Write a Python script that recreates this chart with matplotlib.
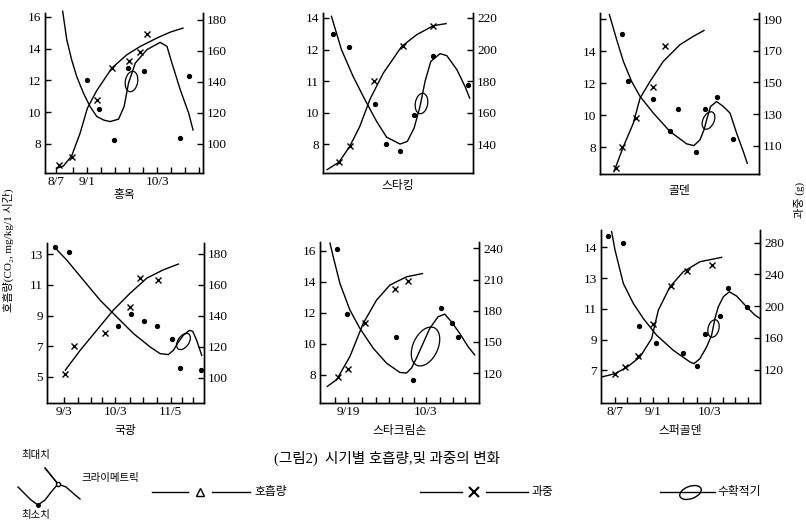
import numpy as np
import matplotlib
matplotlib.use('Agg')
import matplotlib.pyplot as plt
from matplotlib.path import Path
from matplotlib.transforms import Affine2D
from matplotlib.lines import Line2D

plt.rcParams['font.family'] = ['Liberation Serif', 'Noto Sans CJK KR']

# ---- 홍옥 ----
p1_curve_x = [1.26, 1.55, 1.9, 2.26, 2.74, 3.21, 3.69, 4.2, 4.64, 5.24, 5.64, 5.95, 6.43, 7.26, 8.21, 8.69, 9.05, 9.64, 10.24, 10.55]
p1_curve_y = [16.36, 14.57, 13.3, 12.25, 11.2, 10.36, 9.73, 9.5, 9.41, 9.56, 10.36, 11.83, 13.09, 13.94, 14.4, 14.15, 13.09, 11.41, 9.94, 8.88]
p1_dot_x = [3.02, 3.88, 4.95, 5.95, 7.02, 9.64, 10.24]
p1_dot_y = [12.0, 10.23, 8.25, 12.78, 12.61, 8.4, 12.25]
p1_wt_x = [0.83, 1.31, 1.9, 2.5, 3.02, 3.69, 4.76, 5.83, 6.79, 7.98, 8.93, 9.83]
p1_wt_y = [84.3, 85.8, 92.3, 106.9, 123.0, 134.4, 148.8, 157.4, 162.8, 168.2, 172.0, 174.6]
p1_xm_x = [1.02, 1.9, 3.74, 4.76, 6.02, 6.74, 7.26]
p1_xm_y = [86.5, 91.8, 128.0, 148.8, 153.5, 158.9, 170.8]
p1_harvest = (6.14, 11.94)

# ---- 스타킹 ----
p2_curve_x = [0.6, 1.31, 2.14, 2.98, 3.81, 4.52, 5.48, 6.0, 6.48, 6.9, 7.26, 7.67, 8.33, 8.81, 9.52, 10.12, 10.43]
p2_curve_y = [16.1, 14.0, 12.3, 10.83, 9.46, 8.46, 8.02, 8.19, 9.03, 10.4, 11.99, 13.25, 13.74, 13.61, 12.73, 11.63, 10.93]
p2_dot_x = [0.71, 1.86, 3.69, 4.48, 5.48, 6.48, 7.81, 10.29]
p2_dot_y = [15.0, 14.14, 10.55, 8.02, 7.56, 9.84, 13.57, 11.78]
p2_wt_x = [0.29, 1.14, 1.9, 2.62, 3.33, 4.29, 5.6, 6.67, 7.86, 8.76]
p2_wt_y = [124.0, 128.8, 138.7, 151.4, 168.3, 185.1, 202.0, 209.4, 215.1, 216.4]
p2_xm_x = [1.14, 1.95, 3.62, 5.67, 7.86]
p2_xm_y = [128.8, 139.2, 179.9, 202.4, 215.1]
p2_harvest = (6.98, 10.62)

# ---- 골덴 ----
p3_curve_x = [0.67, 1.19, 1.67, 2.26, 2.86, 3.81, 5.0, 6.19, 6.71, 7.14, 7.43, 7.62, 7.9, 8.33, 8.81, 9.29, 9.76, 10.24, 10.52]
p3_curve_y = [16.27, 14.71, 13.35, 12.1, 11.17, 10.13, 8.98, 8.21, 8.1, 8.46, 9.08, 9.71, 10.54, 10.85, 10.54, 10.13, 8.88, 7.73, 7.0]
p3_dot_x = [1.55, 2.02, 3.76, 5.0, 5.6, 6.86, 7.5, 8.38, 9.52]
p3_dot_y = [15.06, 12.1, 11.0, 9.04, 10.38, 7.73, 10.38, 11.13, 8.5]
p3_wt_x = [1.0, 1.67, 2.38, 2.86, 3.57, 4.52, 5.71, 6.67, 7.43]
p3_wt_y = [93.8, 109.6, 124.3, 140.1, 150.6, 163.3, 173.8, 179.1, 182.8]
p3_xm_x = [1.14, 1.55, 2.55, 3.76, 4.64]
p3_xm_y = [95.9, 109.6, 127.5, 147.1, 173.2]
p3_harvest = (7.69, 9.67)

# ---- 국광 ----
p4_curve_x = [0.55, 1.5, 2.75, 4.0, 5.25, 6.5, 7.75, 8.5, 9.125, 9.5, 9.875, 10.25, 10.7, 10.95, 11.25, 11.63]
p4_curve_y = [13.48, 12.61, 11.3, 10.0, 8.91, 7.83, 6.96, 6.52, 6.46, 6.74, 7.28, 7.72, 8.04, 7.98, 7.39, 6.41]
p4_dot_x = [0.62, 1.62, 5.3, 6.3, 7.3, 8.3, 9.375, 10.0, 11.55]
p4_dot_y = [13.48, 13.15, 8.3, 9.09, 8.65, 8.3, 7.48, 5.57, 5.43]
p4_wt_x = [1.375, 2.5, 3.75, 5.0, 6.25, 7.5, 8.75, 9.875]
p4_wt_y = [104.8, 117.7, 130.7, 143.7, 154.5, 164.2, 169.6, 173.3]
p4_xm_x = [1.33, 2.05, 4.375, 6.25, 7.0, 8.375]
p4_xm_y = [102.2, 120.3, 129.0, 145.8, 164.2, 162.7]
p4_harvest = (10.2, 7.33)

# ---- 스타크림손 ----
p5_curve_x = [0.75, 1.0, 1.5, 2.25, 3.0, 4.0, 5.0, 6.0, 6.5, 6.875, 7.25, 7.75, 8.25, 8.875, 9.375, 9.875, 10.5, 11.125, 11.625]
p5_curve_y = [16.49, 15.59, 13.88, 12.17, 10.99, 9.71, 8.75, 8.15, 8.11, 8.43, 9.07, 10.03, 10.99, 11.74, 11.91, 11.42, 10.67, 9.82, 9.28]
p5_dot_x = [1.3, 2.05, 5.675, 7.0, 9.125, 9.95, 10.4]
p5_dot_y = [16.13, 11.91, 10.42, 7.64, 12.28, 11.36, 10.42]
p5_wt_x = [0.55, 1.25, 2.25, 3.25, 4.25, 5.25, 6.5, 7.7]
p5_wt_y = [107.2, 113.6, 136.0, 167.9, 190.3, 204.7, 212.7, 215.8]
p5_xm_x = [1.325, 2.125, 3.375, 5.625, 6.625]
p5_xm_y = [116.2, 123.8, 167.9, 201.1, 208.8]
p5_harvest = (7.875, 9.86)

# ---- 스퍼골덴 ----
p6_curve_x = [0.8, 1.05, 1.675, 2.425, 3.175, 4.175, 5.425, 6.675, 6.975, 7.425, 7.925, 8.3, 8.55, 8.8, 9.175, 9.625, 10.175, 10.925, 11.55, 11.93]
p6_curve_y = [16.02, 14.83, 12.65, 11.35, 10.37, 9.28, 8.3, 7.54, 7.43, 7.76, 8.52, 9.28, 10.37, 11.13, 11.78, 12.11, 11.83, 11.13, 10.59, 10.37]
p6_dot_x = [0.55, 1.625, 2.875, 4.125, 6.125, 7.175, 7.8, 8.925, 9.55, 10.975]
p6_dot_y = [15.74, 15.3, 9.87, 8.78, 8.13, 7.26, 9.35, 10.52, 12.33, 11.09]
p6_wt_x = [0.05, 1.05, 1.98, 2.93, 3.8, 4.3, 5.175, 6.175, 7.425, 9.05]
p6_wt_y = [110.7, 114.9, 123.4, 136.0, 159.2, 194.9, 224.4, 243.4, 256.0, 261.5]
p6_xm_x = [1.05, 1.8, 2.8, 3.925, 5.225, 6.475, 8.3]
p6_xm_y = [114.9, 123.4, 136.8, 177.3, 225.3, 244.6, 251.8]
p6_harvest = (8.425, 9.72)

W, H = 806, 520


def ellipse_marker(angle, ratio=0.6):
    circ = Path.unit_circle()
    v = Affine2D().scale(ratio, 1.0).rotate_deg(angle).transform(circ.vertices)
    return Path(v, circ.codes)


def make_panel(fig, box, xlim, yl, yr, lt, ltl, rt, curve, dots, wt, xm, harv,
               hsize, hangle, xt=None, xtl=None, xminor=None, name='', name_y=0):
    l, r, t, b = box
    ax = fig.add_axes([l / W, 1 - b / H, (r - l) / W, (b - t) / H])
    ax2 = ax.twinx()
    for a in (ax, ax2):
        a.spines['top'].set_visible(False)
        a.spines['left'].set_linewidth(1.0)
        a.spines['right'].set_linewidth(1.0)
        a.spines['bottom'].set_linewidth(1.0)
        a.patch.set_visible(False)
    ax.set_xlim(*xlim)
    ax.set_ylim(*yl)
    ax2.set_ylim(*yr)

    ax.plot(curve[0], curve[1], color='black', lw=1.0, clip_on=False)
    ax.plot(dots[0], dots[1], 'o', color='black', ms=2.8, clip_on=False)
    ax.plot([harv[0]], [harv[1]], marker=ellipse_marker(hangle), ms=hsize,
            mfc='none', mec='black', mew=0.9, ls='none')
    ax2.plot(wt[0], wt[1], color='black', lw=1.0, clip_on=False)
    ax2.plot(xm[0], xm[1], 'x', color='black', ms=4.5, mew=1.0, clip_on=False)

    ax.set_yticks(lt)
    ax.set_yticklabels(ltl)
    ax2.set_yticks(rt)
    ax2.set_yticklabels([str(v) for v in rt])
    ax.tick_params(axis='y', direction='in', length=4, width=1, labelsize=9.5, pad=3)
    ax2.tick_params(axis='y', direction='in', length=4, width=1, labelsize=9.5, pad=3)
    if xt is not None:
        ax.set_xticks(xt)
        ax.set_xticklabels(xtl)
        ax.set_xticks(xminor, minor=True)
        ax.tick_params(axis='x', which='both', direction='in', length=4, width=1,
                       labelsize=9.5, pad=2)
    else:
        ax.set_xticks([])
    ax.text((l + r) / 2 / W, 1 - name_y / H, name, transform=fig.transFigure,
            ha='center', va='center', fontsize=8.5)
    return ax


fig = plt.figure(figsize=(W / 100, H / 100), dpi=100)

make_panel(fig, (45, 203, 13, 173), (0, 11.26), (6.17, 16.25), (81.3, 184.3),
           [8, 10, 12, 14, 16], ['8', '10', '12', '14', '16'], [100, 120, 140, 160, 180],
           (p1_curve_x, p1_curve_y), (p1_dot_x, p1_dot_y), (p1_wt_x, p1_wt_y),
           (p1_xm_x, p1_xm_y), p1_harvest, 15, -10,
           xt=[0.8, 3.0, 8.0], xtl=['8/7', '9/1', '10/3'],
           xminor=[2, 4, 5, 6, 7, 9, 10, 11], name='홍옥', name_y=195)

make_panel(fig, (323, 473, 13, 173), (0, 10.67), (6.19, 16.31), (121.9, 223.1),
           [8, 10, 12, 14, 16], ['8', '10', '11', '12', '14'], [140, 160, 180, 200, 220],
           (p2_curve_x, p2_curve_y), (p2_dot_x, p2_dot_y), (p2_wt_x, p2_wt_y),
           (p2_xm_x, p2_xm_y), p2_harvest, 15, -10, name='스타킹', name_y=186)

make_panel(fig, (600, 759, 13, 174), (0, 11.36), (6.33, 16.37), (92.3, 193.8),
           [8, 10, 12, 14, 16], ['8', '10', '12', '14', ''], [110, 130, 150, 170, 190],
           (p3_curve_x, p3_curve_y), (p3_dot_x, p3_dot_y), (p3_wt_x, p3_wt_y),
           (p3_xm_x, p3_xm_y), p3_harvest, 13, -25, name='골덴', name_y=191)

make_panel(fig, (47, 204, 243, 403), (0, 11.8), (3.30, 13.74), (83.6, 186.9),
           [5, 7, 9, 11, 13], ['5', '7', '9', '11', '13'], [100, 120, 140, 160, 180],
           (p4_curve_x, p4_curve_y), (p4_dot_x, p4_dot_y), (p4_wt_x, p4_wt_y),
           (p4_xm_x, p4_xm_y), p4_harvest, 12, -35,
           xt=[1.25, 5.125, 9.3], xtl=['9/3', '10/3', '11/5'],
           xminor=[2.3, 3.3, 4.125, 6.25, 7.25, 8.25, 10.125, 11.0], name='국광', name_y=431)

make_panel(fig, (320, 479, 242, 403), (0, 11.95), (6.18, 16.56), (91.2, 246.2),
           [8, 10, 12, 14, 16], ['8', '10', '12', '14', '16'], [120, 150, 180, 210, 240],
           (p5_curve_x, p5_curve_y), (p5_dot_x, p5_dot_y), (p5_wt_x, p5_wt_y),
           (p5_xm_x, p5_xm_y), p5_harvest, 29, -25,
           xt=[2.125, 7.95], xtl=['9/19', '10/3'],
           xminor=[1.125, 3.125, 4.2, 5.2, 6.2, 7.1, 9.0, 10.0, 10.9], name='스타크림손', name_y=431)

make_panel(fig, (601, 760, 230, 403), (0, 11.93), (4.87, 16.13), (77.9, 296.0),
           [7, 9, 11, 13, 15], ['7', '9', '11', '13', '14'], [120, 160, 200, 240, 280],
           (p6_curve_x, p6_curve_y), (p6_dot_x, p6_dot_y), (p6_wt_x, p6_wt_y),
           (p6_xm_x, p6_xm_y), p6_harvest, 13, -15,
           xt=[1.05, 3.93, 8.175], xtl=['8/7', '9/1', '10/3'],
           xminor=[1.98, 2.93, 5.05, 6.125, 7.175, 9.125, 10.05, 11.05], name='스퍼골덴', name_y=431)


def fx(px):
    return px / W


def fy(py):
    return 1 - py / H


# axis titles
fig.text(fx(8), fy(250), '호흡량(CO₂, mg/kg/1 시간)', rotation=90, ha='center',
         va='center', fontsize=8)
fig.text(fx(799), fy(200), '과중 (g)', rotation=90, ha='center', va='center', fontsize=8)

# caption
fig.text(fx(387), fy(458), '(그림2)  시기별 호흡량,및 과중의 변화', ha='center',
         va='center', fontsize=10.5)

# climacteric diagram
cx = [18, 24, 31, 38, 45, 52, 58, 66, 74, 80]
cy = [487, 493, 500, 505, 500, 491, 484, 487, 494, 499]
fig.add_artist(Line2D([fx(v) for v in cx], [fy(v) for v in cy], color='black', lw=1.0))
fig.add_artist(Line2D([fx(45), fx(58)], [fy(468), fy(484)], color='black', lw=1.2))
fig.add_artist(Line2D([fx(38)], [fy(505)], marker='o', ms=2.5, color='black'))
fig.add_artist(Line2D([fx(58)], [fy(484)], marker='o', ms=3, mfc='white', color='black'))
fig.text(fx(36), fy(455), '최대치', ha='center', va='center', fontsize=7.5)
fig.text(fx(82), fy(478), '크라이메트릭', ha='left', va='center', fontsize=7.5)
fig.text(fx(36), fy(515), '최소치', ha='center', va='center', fontsize=7.5)

# legend rows
ly = 492
fig.add_artist(Line2D([fx(152), fx(188)], [fy(ly), fy(ly)], color='black', lw=1.0))
fig.add_artist(Line2D([fx(200)], [fy(ly)], marker='^', ms=6, mfc='none', mec='black'))
fig.add_artist(Line2D([fx(212), fx(250)], [fy(ly), fy(ly)], color='black', lw=1.0))
fig.text(fx(254), fy(ly), '호흡량', ha='left', va='center', fontsize=8.5)

fig.add_artist(Line2D([fx(420), fx(462)], [fy(ly), fy(ly)], color='black', lw=1.0))
fig.add_artist(Line2D([fx(474)], [fy(ly)], marker='x', ms=7, mew=1.5, color='black'))
fig.add_artist(Line2D([fx(486), fx(528)], [fy(ly), fy(ly)], color='black', lw=1.0))
fig.text(fx(532), fy(ly), '과중', ha='left', va='center', fontsize=8.5)

fig.add_artist(Line2D([fx(660), fx(715)], [fy(ly), fy(ly)], color='black', lw=1.0))
fig.add_artist(Line2D([fx(690)], [fy(ly)], marker=ellipse_marker(-70, 0.55), ms=16,
                      mfc='none', mec='black', mew=1.0))
fig.text(fx(717), fy(ly), '수확적기', ha='left', va='center', fontsize=8.5)

fig.savefig('out.png', dpi=100)
